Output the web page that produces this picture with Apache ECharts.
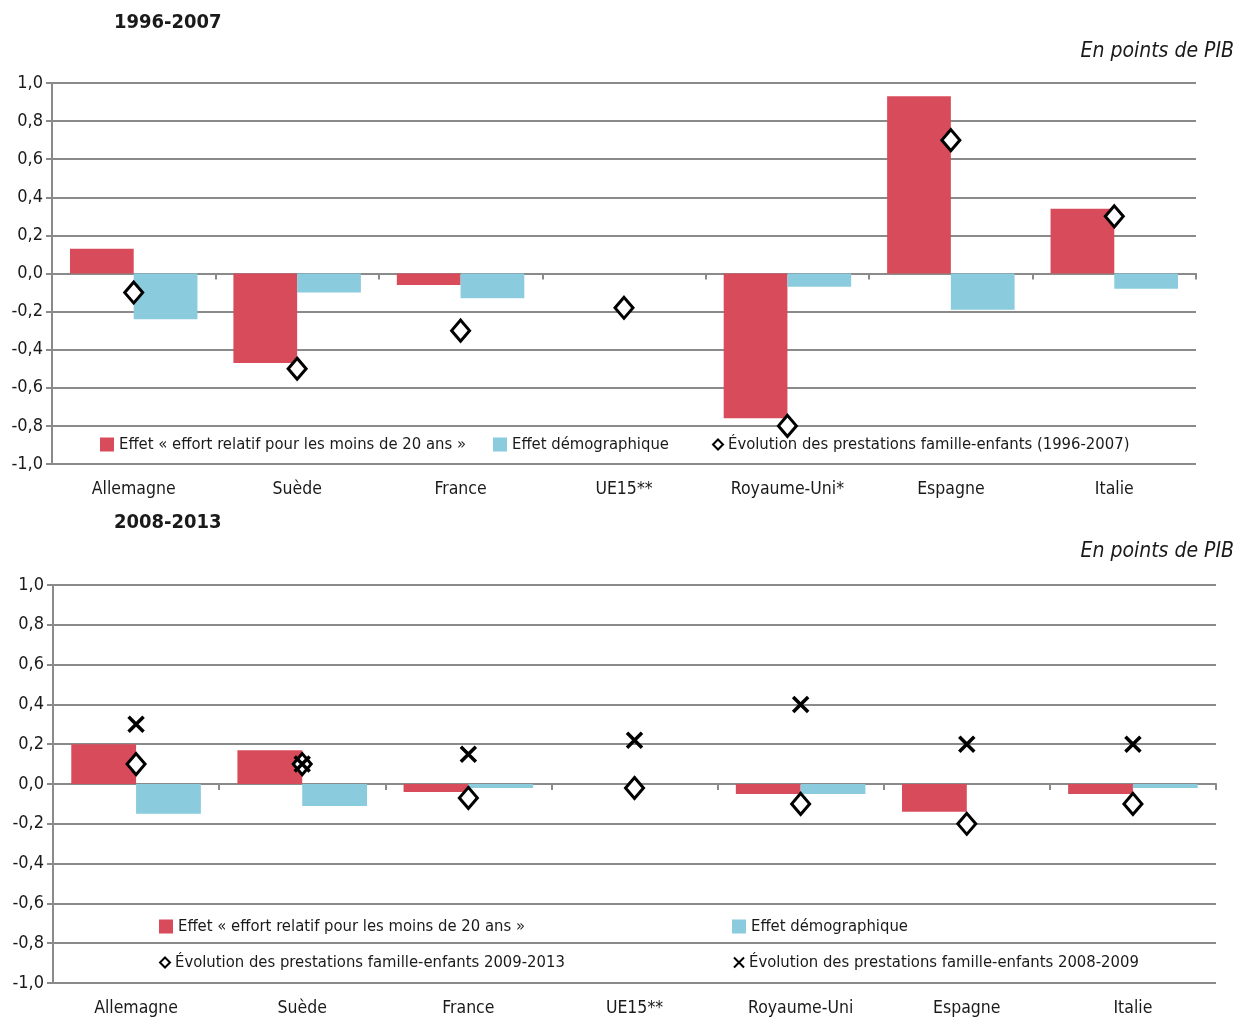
<!DOCTYPE html>
<html>
<head>
<meta charset="utf-8">
<script src="https://cdn.jsdelivr.net/npm/echarts@6/dist/echarts.min.js"></script>
<style>
  html, body { margin: 0; padding: 0; background: #fff; }
  #chart { width: 1245px; height: 1018px; }
</style>
</head>
<body>
<div id="chart"></div>
<script>
// données (points de PIB)
const countries1 = ['Allemagne', 'Suède', 'France', 'UE15**', 'Royaume-Uni*', 'Espagne', 'Italie'];
const countries2 = ['Allemagne', 'Suède', 'France', 'UE15**', 'Royaume-Uni', 'Espagne', 'Italie'];

// 1996-2007
const effort1 = [0.13, -0.47, -0.06, null, -0.76, 0.93, 0.34];
const demo1 = [-0.24, -0.10, -0.13, null, -0.07, -0.19, -0.08];
const evol9607 = [-0.10, -0.50, -0.30, -0.18, -0.80, 0.70, 0.30];

// 2008-2013
const effort2 = [0.20, 0.17, -0.04, null, -0.05, -0.14, -0.05];
const demo2 = [-0.15, -0.11, -0.02, null, -0.05, null, -0.02];
const evol0913 = [0.10, 0.10, -0.07, -0.02, -0.10, -0.20, -0.10];
const evol0809 = [0.30, 0.10, 0.15, 0.22, 0.40, 0.20, 0.20];

const yMin = -1, yMax = 1, yStep = 0.2;

const NAME_EFFORT = 'Effet « effort relatif pour les moins de 20 ans »';
const NAME_DEMO = 'Effet démographique';
const NAME_EVOL1 = 'Évolution des prestations famille-enfants (1996-2007)';
const NAME_EVOL2 = 'Évolution des prestations famille-enfants 2009-2013';
const NAME_EVOL3 = 'Évolution des prestations famille-enfants 2008-2009';

const FONT = '"Liberation Sans Narrow", "DejaVu Sans Condensed", "Liberation Sans", sans-serif';
const RED = '#d84b5a';
const BLUE = '#8acbdd';
const GREY = '#8a8a8a';
const TEXT = '#1a1a1a';
const CROSS = 'path://M0,0L10,10M10,0L0,10';

function yAxisCfg(gridIndex) {
  return {
    type: 'value', gridIndex: gridIndex,
    min: yMin, max: yMax, interval: yStep,
    axisLine: { show: true, lineStyle: { color: GREY, width: 2 } },
    axisTick: { show: true, length: 6, lineStyle: { color: GREY, width: 2 } },
    axisLabel: {
      color: TEXT, fontFamily: FONT, fontSize: 18, margin: 9,
      formatter: v => (Math.abs(v) < 1e-9 ? 0 : v).toFixed(1).replace('.', ',')
    },
    splitLine: { lineStyle: { color: GREY, width: 2 } }
  };
}

// axe des libellés (en bas) + axe du zéro (trait et graduations)
function xAxesCfg(gridIndex, cats) {
  return [{
    type: 'category', gridIndex: gridIndex, data: cats, position: 'bottom',
    axisLine: { show: false, onZero: false },
    axisTick: { show: false },
    axisLabel: { color: TEXT, fontFamily: FONT, fontSize: 17.5, margin: 16 }
  }, {
    type: 'category', gridIndex: gridIndex, data: cats, position: 'bottom',
    axisLine: { onZero: true, lineStyle: { color: GREY, width: 2 } },
    axisTick: { show: true, length: 6, lineStyle: { color: GREY, width: 2 } },
    axisLabel: { show: false }
  }];
}

function barSeries(name, data, color, idx) {
  return {
    name: name, type: 'bar', data: data,
    xAxisIndex: idx * 2, yAxisIndex: idx,
    barGap: '0%', barCategoryGap: '22%',
    itemStyle: { color: color },
    silent: true
  };
}

function diamondSeries(name, data, idx) {
  return {
    name: name, type: 'scatter', data: data,
    xAxisIndex: idx * 2, yAxisIndex: idx,
    symbol: 'diamond', symbolSize: [18, 21],
    itemStyle: { color: '#fff', borderColor: '#000', borderWidth: 3, opacity: 1 },
    silent: true, z: 5
  };
}

function legendItem(name, left, top, icon, size) {
  const cfg = {
    data: [name], left: left, top: top, padding: 0,
    icon: icon, itemWidth: size, itemHeight: size, itemGap: 5,
    selectedMode: false,
    textStyle: { color: TEXT, fontFamily: FONT, fontSize: 16.5 }
  };
  if (icon !== 'rect') cfg.itemStyle = { borderWidth: 2, opacity: 1 };
  return cfg;
}

const periodTitle = { fontFamily: FONT, fontSize: 20, fontWeight: 'bold', color: TEXT };
const unitTitle = { fontFamily: FONT, fontSize: 21, fontStyle: 'italic', fontWeight: 'normal', color: TEXT };

const chart = echarts.init(document.getElementById('chart'));

const option = {
  animation: false,
  title: [
    { text: '1996-2007', left: 114, top: 13, padding: 0, textStyle: periodTitle },
    { text: 'En points de PIB', right: 11, top: 41, padding: 0, textStyle: unitTitle },
    { text: '2008-2013', left: 114, top: 513, padding: 0, textStyle: periodTitle },
    { text: 'En points de PIB', right: 11, top: 541, padding: 0, textStyle: unitTitle }
  ],
  grid: [
    { left: 52, right: 49, top: 83, height: 381 },
    { left: 53, right: 29, top: 585, height: 398 }
  ],
  legend: [
    legendItem(NAME_EFFORT, 100, 436, 'rect', 14),
    legendItem(NAME_DEMO, 493, 436, 'rect', 14),
    legendItem(NAME_EVOL1, 712, 436, 'diamond', 10),
    legendItem(NAME_EFFORT, 159, 918, 'rect', 14),
    legendItem(NAME_DEMO, 732, 918, 'rect', 14),
    legendItem(NAME_EVOL2, 159, 954, 'diamond', 10),
    legendItem(NAME_EVOL3, 733, 954, CROSS, 10)
  ],
  xAxis: xAxesCfg(0, countries1).concat(xAxesCfg(1, countries2)),
  yAxis: [yAxisCfg(0), yAxisCfg(1)],
  series: [
    barSeries(NAME_EFFORT, effort1, RED, 0),
    barSeries(NAME_DEMO, demo1, BLUE, 0),
    diamondSeries(NAME_EVOL1, evol9607, 0),
    barSeries(NAME_EFFORT, effort2, RED, 1),
    barSeries(NAME_DEMO, demo2, BLUE, 1),
    diamondSeries(NAME_EVOL2, evol0913, 1),
    {
      name: NAME_EVOL3, type: 'scatter', data: evol0809,
      xAxisIndex: 2, yAxisIndex: 1,
      symbol: CROSS, symbolSize: 15,
      itemStyle: { color: '#000', borderColor: '#000', borderWidth: 3.5, opacity: 1 },
      silent: true, z: 6
    }
  ]
};

chart.setOption(option);
</script>
</body>
</html>
